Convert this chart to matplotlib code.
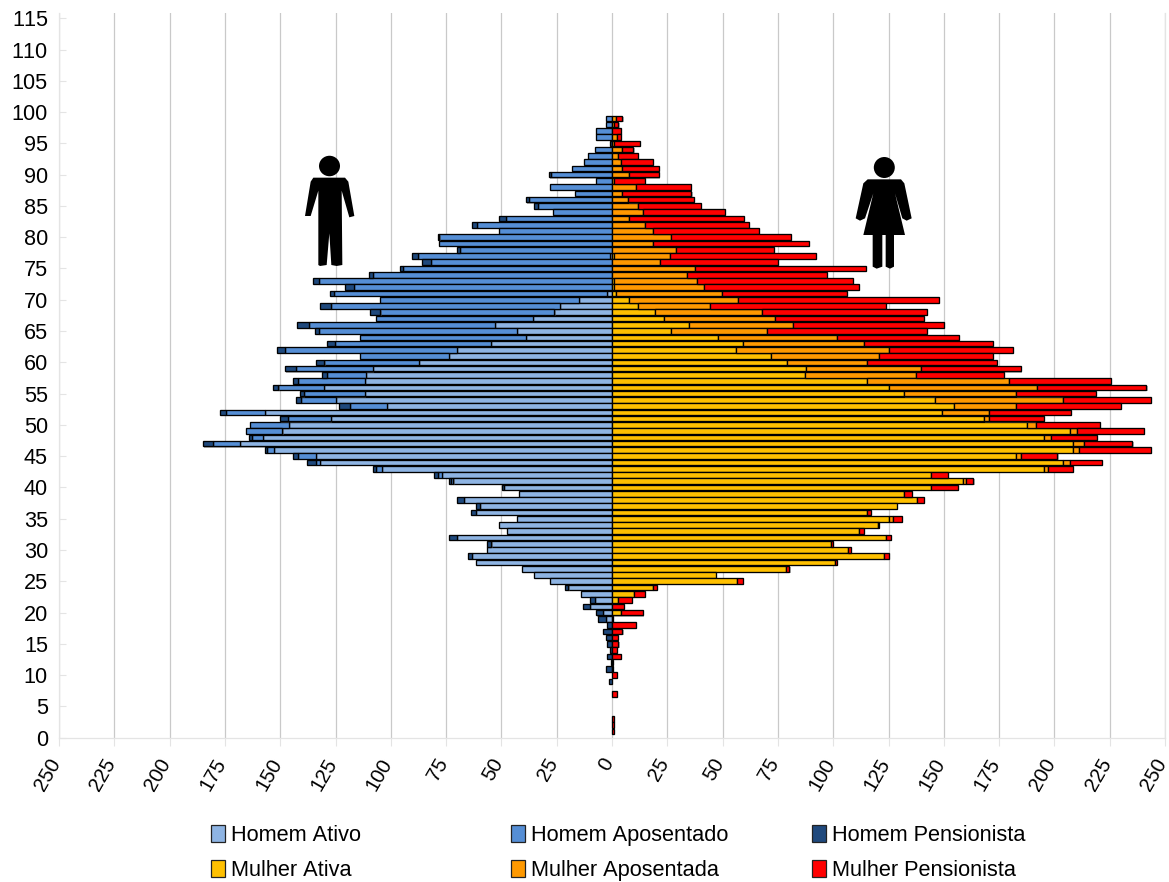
import matplotlib
matplotlib.use("Agg")
import matplotlib.pyplot as plt
import matplotlib.patheffects as pe
from matplotlib.patches import Polygon, Ellipse, Patch
from matplotlib.transforms import ScaledTranslation

plt.rcParams['font.family'] = ['Liberation Sans', 'DejaVu Sans']
plt.rcParams['text.kerning_factor'] = 20

# Ages run from 99 down to 0
ages = list(range(99, -1, -1))

homem_ativo = [0, 0, 0, 0, 0, 0, 0, 0, 0, 0,
               0, 0, 0, 0, 0, 0, 0, 0, 0, 0,
               0, 0, 1, 0, 0, 0, 0, 0, 2.1, 14.9,
               23.5, 26, 35.9, 52.9, 42.8, 38.9, 54.7, 69.9, 73.8, 87.1,
               107.9, 111.2, 111.8, 130.2, 111.8, 125, 101.6, 156.7, 126.9, 145.9,
               149, 157.9, 168.2, 152.8, 133.8, 131.9, 104, 76.9, 71.7, 48.8,
               42, 66.8, 59.7, 61.6, 42.8, 50.9, 47.3, 69.9, 54.5, 56.7,
               63.4, 61.3, 40.8, 35.1, 28.2, 19.7, 14.2, 7.8, 9.8, 3.9,
               2.7, 0, 0, 0, 0, 0, 0, 0, 0, 0,
               0, 0, 0, 0, 0, 0, 0, 0, 0, 0]
homem_aposentado = [2.7, 2.7, 7.2, 7.2, 0, 7.8, 11, 12.8, 18, 27.7,
                    7.2, 28, 16.7, 37.5, 33.6, 26.8, 47.8, 60.9, 51, 78,
                    78.2, 68.7, 86.6, 82, 94.6, 107.9, 132.6, 116.6, 123.6, 90,
                    103.4, 78.7, 70.9, 84, 89.8, 74.9, 70.4, 77.8, 39.9, 42.9,
                    34.8, 17.5, 30.1, 20.6, 27.6, 15.7, 17, 18, 19.6, 17.9,
                    16.6, 5, 12.4, 3, 8.1, 2, 2.7, 1.8, 1.2, 0,
                    0, 0, 0, 0, 0, 0, 0, 0, 0, 0,
                    0, 0, 0, 0, 0, 0, 0, 0, 0, 0,
                    0, 0, 0, 0, 0, 0, 0, 0, 0, 0,
                    0, 0, 0, 0, 0, 0, 0, 0, 0, 0]
homem_pensionista = [0, 0, 0, 0, 1, 0, 0, 0, 0, 1,
                     0, 0, 0, 1.4, 1.5, 0, 3.2, 2.3, 0, 0.8,
                     0, 1.4, 2.7, 3.8, 1.4, 2, 2.7, 4, 2, 0,
                     5.3, 4.5, 0, 5.3, 1.5, 0, 3.9, 3.6, 0, 4,
                     5.1, 2.4, 2.1, 2.3, 1.5, 2.1, 4.7, 2.4, 3.5, 0,
                     0, 1, 4.2, 1, 2.1, 4, 1.5, 1.7, 1, 0.9,
                     0, 3.2, 1.7, 2, 0, 0, 0, 4, 2, 0,
                     1.5, 0, 0, 0, 0, 1.5, 0, 2, 3.2, 3.5,
                     3.5, 2.3, 4.2, 2.9, 2.3, 1, 2.3, 0.5, 2.9, 0,
                     1.2, 0, 0, 0, 0, 0, 0, 0, 0, 0]

mulher_ativa = [0, 0, 0, 0, 0, 0, 0, 0, 0, 0,
                0, 0, 0, 0, 0, 0, 0, 0, 0, 0,
                0, 0, 1, 0, 0, 0, 1, 1, 2, 7.8,
                11.6, 19.6, 23.6, 35, 26.7, 47.8, 59.1, 56, 71.7, 78.9,
                87.6, 87.1, 115.1, 125.3, 132.1, 146.2, 154.5, 149.4, 168.2, 187.5,
                207.1, 195.1, 208.4, 208.4, 182.5, 204, 195.1, 144.3, 158.8, 144.3,
                132.1, 138, 129, 115.1, 125.3, 120.1, 111.7, 123.7, 99, 106.5,
                123.1, 100.8, 78.8, 47, 56.5, 18.7, 9.8, 2.6, 0, 3.9,
                0, 0, 0, 0, 0, 0, 0, 0, 0, 0,
                0, 0, 0, 0, 0, 0, 0, 0, 0, 0]
mulher_aposentada = [2, 1, 0, 2.3, 1, 4.7, 2.6, 4, 4.7, 7.8,
                     1, 10.8, 4.7, 7.2, 11.6, 14.2, 7.8, 14.8, 18.5, 26.8,
                     18.5, 28.9, 25, 21.7, 37.5, 33.9, 37.5, 40.7, 47.6, 49.3,
                     32.7, 48.4, 50.2, 46.9, 43.3, 54, 54.6, 69.3, 49.1, 36.4,
                     52.3, 50.2, 64.3, 66.7, 50.4, 57.8, 28, 20.9, 2.1, 4.4,
                     3.2, 3.2, 5.2, 2.6, 2.4, 3.1, 1.9, 0, 1.3, 0,
                     0, 0, 0, 0, 1.6, 0, 0, 0, 0, 0,
                     0, 0, 0, 0, 0, 0, 0, 0, 0, 0,
                     0, 0, 0, 0, 0, 0, 0, 0, 0, 0,
                     0, 0, 0, 0, 0, 0, 0, 0, 0, 0]
mulher_pensionista = [2.7, 1.9, 4, 1.8, 11.8, 5, 9, 14.6, 16.4, 13.3,
                      13.9, 25, 31.2, 29.8, 28.6, 36.8, 52, 47, 47.8, 54,
                      70.4, 44.3, 66.2, 53.3, 77.5, 63.3, 70.5, 70, 56.5, 90.7,
                      79.6, 74.3, 67.3, 68.1, 72.3, 55.1, 58.6, 55.9, 51.5, 58.9,
                      45, 40, 46.3, 49.6, 36.1, 39.5, 47.4, 37, 24.8, 28.5,
                      30, 20.9, 21.7, 32.5, 16.5, 14.2, 11.4, 7.6, 3.3, 12.1,
                      3.4, 3, 0, 1.9, 4, 0.6, 2.1, 2.3, 1, 1.4,
                      1.9, 0.9, 1.4, 0, 2.7, 1.5, 5.1, 6.6, 5.3, 10.1,
                      0.5, 11, 4.7, 2.7, 2.9, 2.3, 4.2, 0.5, 0.5, 2.3,
                      0, 0, 2.3, 0, 0, 0, 0.7, 0.7, 0.7, 0]

men_series = [("Homem Ativo", homem_ativo, "#8EB4E3"),
              ("Homem Aposentado", homem_aposentado, "#558ED5"),
              ("Homem Pensionista", homem_pensionista, "#1F497D")]
women_series = [("Mulher Ativa", mulher_ativa, "#FFC000"),
                ("Mulher Aposentada", mulher_aposentada, "#FF9900"),
                ("Mulher Pensionista", mulher_pensionista, "#FF0000")]
x_ticks = list(range(-250, 251, 25))
y_ticks = list(range(0, 116, 5))

W, H = 1169, 882
fig = plt.figure(figsize=(W / 100, H / 100), dpi=100, facecolor="white")
left, right, top, bottom = 59, 1165, 13.3, 737.7
ax = fig.add_axes([left / W, 1 - bottom / H, (right - left) / W, (bottom - top) / H])

shadow = [pe.SimplePatchShadow(offset=(0.8, -0.8), shadow_rgbFace="#555555", alpha=0.45), pe.Normal()]


def stack(series, sign):
    base = [0.0] * len(ages)
    for name, vals, color in series:
        idx = [i for i, v in enumerate(vals) if v > 0]
        bars = ax.barh([ages[i] for i in idx], [sign * vals[i] for i in idx], left=[base[i] for i in idx],
                       height=0.9, color=color, edgecolor="black", linewidth=0.95, label=name, zorder=3)
        for b in bars:
            b.set_path_effects(shadow)
        base = [b + sign * v for b, v in zip(base, vals)]


stack(men_series, -1)
stack(women_series, 1)

ax.set_xlim(-250, 250)
ax.set_ylim(0, (bottom - top) / 6.256)
ax.set_xticks(x_ticks)
ax.set_xticklabels([str(abs(v)) for v in x_ticks], rotation=60, ha="right", va="center",
                   rotation_mode="anchor", fontsize=14.6, color="black")
ax.set_yticks(y_ticks)
ax.set_yticklabels([str(v) for v in y_ticks], fontsize=15.6, color="black")
ax.tick_params(axis="x", direction="out", length=5.8, width=0.8, color="#e4e4e4", pad=10)
ax.tick_params(axis="y", direction="in", length=5, width=0.8, color="#e4e4e4", pad=8)
shift = ScaledTranslation(-3 / 100, 0, fig.dpi_scale_trans)
for lab in ax.get_xticklabels():
    lab.set_transform(lab.get_transform() + shift)
ax.grid(axis="x", color="#c9c9c9", linewidth=0.9, zorder=0)
ax.set_axisbelow(True)
for s in ("left", "right", "bottom"):
    ax.spines[s].set_color("#e4e4e4")
    ax.spines[s].set_linewidth(0.9)
ax.spines["top"].set_visible(False)


# Legend: three equally spaced columns
def column(series_a, series_b, x):
    handles = [Patch(facecolor=c, edgecolor="#222222", linewidth=0.9, label=n) for n, _, c in (series_a, series_b)]
    fig.legend(handles=handles, loc="upper left", bbox_to_anchor=(x / W, 1 - 825 / H), frameon=False,
               fontsize=15.7, handlelength=0.62, handleheight=0.8, handletextpad=0.3, labelspacing=0.63,
               borderpad=0, borderaxespad=0)


for a, b, x in zip(men_series, women_series, (211, 511, 812)):
    column(a, b, x)


# Pictograms, given in target pixels
def to_fig(points, ox, oy):
    return [((ox + px / 3) / W, 1 - (oy + py / 3) / H) for px, py in points]


man = [(70, 83), (165, 83), (175, 95), (193, 198), (178, 202), (155, 122), (157, 345), (140, 348), (124, 345),
       (118, 250), (110, 345), (90, 348), (85, 345), (85, 122), (62, 198), (45, 198), (62, 95)]
woman = [(68, 88), (168, 88), (178, 100), (200, 205), (185, 212), (172, 205), (150, 130), (180, 255), (147, 255),
         (147, 350), (135, 356), (122, 350), (122, 255), (112, 255), (112, 350), (95, 356), (83, 350), (83, 255),
         (55, 255), (85, 130), (60, 205), (45, 212), (32, 205), (55, 100)]
fig.add_artist(Polygon(to_fig(man, 290, 150), closed=True, transform=fig.transFigure, facecolor="black", edgecolor="none"))
fig.add_artist(Polygon(to_fig(woman, 845, 150), closed=True, transform=fig.transFigure, facecolor="black", edgecolor="none"))
fig.add_artist(Ellipse((329.5 / W, 1 - 166 / H), 21 / W, 20.5 / H, transform=fig.transFigure, facecolor="black", edgecolor="none"))
fig.add_artist(Ellipse((884.3 / W, 1 - 167.5 / H), 21 / W, 21 / H, transform=fig.transFigure, facecolor="black", edgecolor="none"))

fig.savefig("out.png", dpi=100, facecolor="white")
